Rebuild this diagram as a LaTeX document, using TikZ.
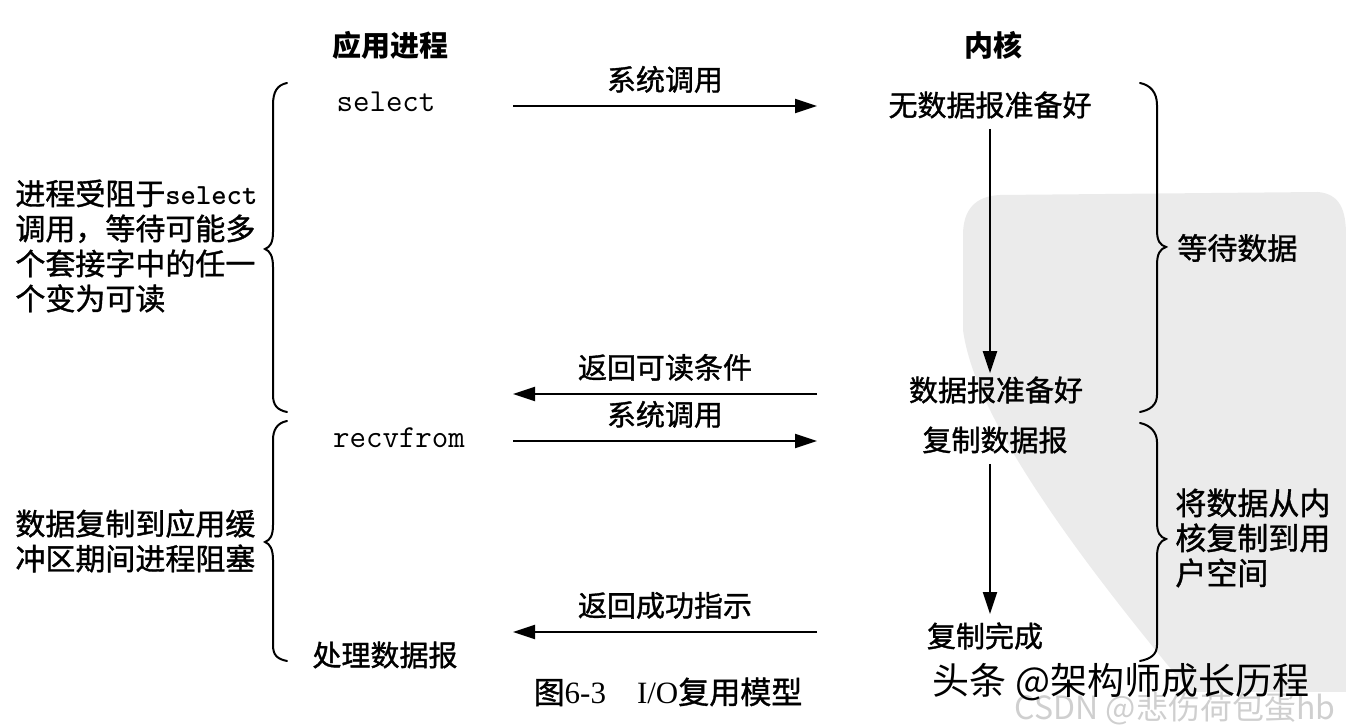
\documentclass[tikz,border=0pt]{standalone}
\usepackage{fontspec}
\setmainfont{Liberation Serif}
\newfontfamily\cjk{Noto Sans CJK SC}[FakeBold=1.2]
\newfontfamily\cjkwm{Noto Sans CJK SC}
\usetikzlibrary{arrows.meta}
\definecolor{sealgray}{HTML}{EBEBEB}
\definecolor{wmgray}{HTML}{CFCFCF}
\tikzset{
  cn/.style={inner sep=0pt, font=\cjk\fontsize{14.5}{17}\selectfont},
  hd/.style={inner sep=0pt, font=\cjkwm\bfseries\fontsize{14.5}{17}\selectfont},
  mono/.style={inner sep=0pt, font=\ttfamily\fontsize{16}{17}\selectfont},
  side/.style={inner sep=0pt, align=left, anchor=west, font=\cjk\fontsize{15}{17.5}\selectfont},
  msg/.style={line width=1.1pt, -{Triangle[length=11pt,width=7pt]}},
  flow/.style={line width=1.1pt, -{Triangle[length=11pt,width=7pt]}},
  bracepath/.style={line width=1pt, line cap=round},
}
\begin{document}
\begin{tikzpicture}[x=0.5pt,y=-0.5pt]
\useasboundingbox (0,0) rectangle (1346,726);
% watermark seal background
\fill[sealgray] (1000,195) -- (1318,192) .. controls (1340,194) and (1346,210) .. (1346,235)
  -- (1346,692) -- (1190,692) .. controls (1080,560) and (975,420) .. (963,330)
  -- (963,235) .. controls (963,210) and (975,196) .. (1000,195) -- cycle;

% headers
\node[hd] (hApp) at (390,45) {应用进程};
\node[hd] (hKer) at (993,45) {内核};

% application side
\node[mono] (sel) at (386,102) {select};
\node[mono] (recv) at (399,438) {recvfrom};
\node[cn] (proc) at (385,655) {处理数据报};

% kernel side
\node[cn] (k1) at (990,105) {无数据报准备好};
\node[cn] (k2) at (996,390) {数据报准备好};
\node[cn] (k3) at (995,440) {复制数据报};
\node[cn] (k4) at (985,636) {复制完成};

% message arrows
\coordinate (m1a) at (513,106); \coordinate (m1b) at (817,106);
\coordinate (m2a) at (817,394); \coordinate (m2b) at (513,394);
\coordinate (m3a) at (513,441); \coordinate (m3b) at (817,441);
\coordinate (m4a) at (817,632); \coordinate (m4b) at (513,632);
\draw[msg] (m1a) -- node[cn, above=6pt] (l1) {系统调用} (m1b);
\draw[msg] (m2a) -- node[cn, above=6pt] (l2) {返回可读条件} (m2b);
\draw[msg] (m3a) -- node[cn, above=6pt] (l3) {系统调用} (m3b);
\draw[msg] (m4a) -- node[cn, above=6pt] (l4) {返回成功指示} (m4b);

% kernel flow arrows
\draw[flow, shorten <=5pt, shorten >=1.5pt] (k1.south) -- (k1.south |- k2.north);
\draw[flow, shorten <=5pt, shorten >=4pt] (k1.south |- k3.south) -- (k1.south |- k4.north);

% left braces
\draw[bracepath] (287,83) .. controls (277,85) and (273,92) .. (273,105) -- (273,232)
  .. controls (273,243) and (270,247) .. (265,249) .. controls (270,251) and (273,256) .. (273,267)
  -- (273,395) .. controls (273,405) and (277,410) .. (287,412);
\draw[bracepath] (287,421) .. controls (277,423) and (273,430) .. (273,440) -- (273,525)
  .. controls (273,536) and (270,540) .. (265,542) .. controls (270,544) and (273,549) .. (273,560)
  -- (273,645) .. controls (273,655) and (277,659) .. (287,661);
% right braces
\draw[bracepath] (1140,83) .. controls (1150,85) and (1157,92) .. (1157,105) -- (1157,230)
  .. controls (1157,241) and (1160,245) .. (1166,247) .. controls (1160,249) and (1157,254) .. (1157,265)
  -- (1157,395) .. controls (1157,405) and (1150,410) .. (1140,412);
\draw[bracepath] (1140,423) .. controls (1150,425) and (1157,432) .. (1157,442) -- (1157,522)
  .. controls (1157,533) and (1160,537) .. (1166,539) .. controls (1160,541) and (1157,546) .. (1157,557)
  -- (1157,645) .. controls (1157,655) and (1150,659) .. (1140,661);

% side notes
\node[side] (noteSel) at (15,246) {进程受阻于{\ttfamily\bfseries\fontsize{14.6}{17.5}\selectfont select}\\调用，等待可能多\\个套接字中的任一\\个变为可读};
\node[side] (noteCopy) at (15,541) {数据复制到应用缓\\冲区期间进程阻塞};
\node[side] (noteWait) at (1177,248) {等待数据};
\node[side, font=\cjk\fontsize{15.5}{17.5}\selectfont] (noteK) at (1175,538) {将数据从内\\核复制到用\\户空间};

% caption
\node[inner sep=0pt, font=\fontsize{15.5}{18}\selectfont] (cap) at (668,692) {{\cjk 图}6-3\quad I/O{\cjk 复用模型}};

% watermarks
\node[inner sep=0pt, text=wmgray, font=\cjkwm\fontsize{16}{18}\selectfont] (wm2) at (1175,709) {CSDN @悲伤荷包蛋hb};
\node[inner sep=0pt, font=\cjkwm\fontsize{18.5}{20}\selectfont] (wm1) at (1121,682) {头条 @架构师成长历程};
\end{tikzpicture}
\end{document}
